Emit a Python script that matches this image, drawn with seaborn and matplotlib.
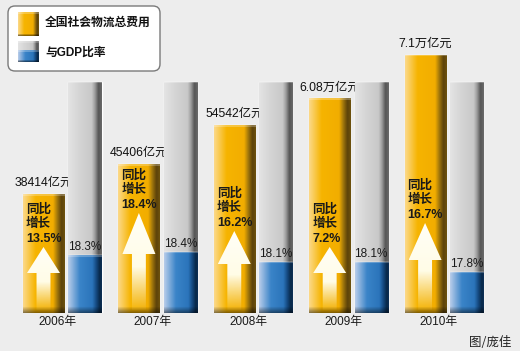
import numpy as np
import matplotlib
matplotlib.use("Agg")
import matplotlib.pyplot as plt
import matplotlib.colors as mcolors
from matplotlib.patches import FancyBboxPatch, Polygon
import seaborn as sns

# datos
years = ["2006年", "2007年", "2008年", "2009年", "2010年"]
cost = [38414, 45406, 54542, 60800, 71000]          # 亿元
cost_labels = ["38414亿元", "45406亿元", "54542亿元", "6.08万亿元", "7.1万亿元"]
growth = ["13.5%", "18.4%", "16.2%", "7.2%", "16.7%"]
ratio = [18.3, 18.4, 18.1, 18.1, 17.8]              # % del PIB
ratio_track = [23.55, 23.55, 23.55, 23.55, 23.55]   # barra gris de fondo

# flechas (px sobre la base): punta y cuello
arrow_tip = [66, 100, 82, 66, 90]
arrow_neck = [40, 59, 49, 40, 53]

sns.set_style("white")
plt.rcParams["font.family"] = ["Liberation Sans", "Noto Sans CJK SC"]

BG = "#ededed"
fig = plt.figure(figsize=(5.2, 3.51), dpi=100, facecolor=BG)
ax = fig.add_axes([0, 38 / 351, 1, 313 / 351])
ax.set_facecolor(BG)
ax2 = ax.twinx()

pos = np.arange(len(years))
sns.barplot(x=pos, y=cost, native_scale=True, width=0.43, color="#f5b300",
            saturation=1, errorbar=None, ax=ax)
sns.barplot(x=pos + 0.435, y=ratio_track, native_scale=True, width=0.346,
            color="#cfcfcf", saturation=1, errorbar=None, ax=ax2)
sns.barplot(x=pos + 0.435, y=ratio, native_scale=True, width=0.346,
            color="#2e7bc4", saturation=1, errorbar=None, ax=ax2)

XL = (-0.456, 4.995)
Y1 = (10650, 83800)
Y2 = (16.55, 26.03)
ax.axis("off")
ax2.axis("off")
PX = 313.0


def gradient(stops, nrow, dark_rows=0):
    xs = np.linspace(0, 1, 120)
    p = [s[0] for s in stops]
    rgb = np.array([mcolors.to_rgb(s[1]) for s in stops])
    row = np.stack([np.interp(xs, p, rgb[:, k]) for k in range(3)], -1)
    img = np.repeat(row[None], max(nrow, 2), 0)
    if dark_rows:
        n = min(dark_rows, img.shape[0])
        f = np.linspace(1.0, 0.55, n)
        img[-n:] *= f[:, None, None]
    img[:2] = img[:2] * 0.75 + 0.25
    return np.clip(img, 0, 1)


orange_stops = [(0, "#fcd98a"), (0.3, "#f6b400"), (0.72, "#f2ad00"),
                (0.82, "#a0760c"), (0.92, "#5c420a"), (1, "#6e520e")]
blue_stops = [(0, "#b9cdea"), (0.35, "#3a84c8"), (0.72, "#2b74ba"),
              (0.84, "#14487e"), (0.94, "#082848"), (1, "#0e3056")]
gray_stops = [(0, "#e4e4e4"), (0.3, "#d6d6d6"), (0.7, "#c8c8c8"),
              (0.8, "#9a9a9a"), (0.9, "#555555"), (1, "#6a6a6a")]


def shade(a, container, stops, ylim, z, dark=7):
    for patch in container:
        x0 = patch.get_x()
        x1 = x0 + patch.get_width()
        y0 = max(patch.get_y(), ylim[0])
        y1 = patch.get_y() + patch.get_height()
        nrow = int((y1 - y0) / (ylim[1] - ylim[0]) * PX)
        patch.set_zorder(z)
        im = a.imshow(gradient(stops, nrow, dark), extent=(x0, x1, y0, y1),
                      aspect="auto", interpolation="bilinear", zorder=z + 0.1)
        im.set_clip_path(patch)


shade(ax, ax.containers[0], orange_stops, Y1, 2)
shade(ax2, ax2.containers[0], gray_stops, Y2, 2, dark=0)
shade(ax2, ax2.containers[1], blue_stops, Y2, 3)
ax.set_xlim(*XL)
ax2.set_xlim(*XL)
ax.set_ylim(*Y1)
ax2.set_ylim(*Y2)

unit = (Y1[1] - Y1[0]) / PX  # datos por px
for i, patch in enumerate(ax.containers[0]):
    cx = patch.get_x() + patch.get_width() / 2
    left = patch.get_x()
    # flecha
    tip = Y1[0] + arrow_tip[i] * unit
    neck = Y1[0] + arrow_neck[i] * unit
    bot = Y1[0] + 3 * unit
    hw, sw = 0.173, 0.073
    pts = [(cx, tip), (cx + hw, neck), (cx + sw, neck), (cx + sw, bot),
           (cx - sw, bot), (cx - sw, neck), (cx - hw, neck)]
    arr = Polygon(pts, closed=True, facecolor="none", edgecolor="none")
    ax.add_patch(arr)
    n = 100
    alpha = np.ones(n)
    k0 = int(n * 0.55)
    alpha[k0:] = np.linspace(1, 0.05, n - k0)
    img = np.ones((n, 2, 4))
    img[:, :, 1] = np.linspace(1, 0.98, n)[:, None]
    img[:, :, 2] = np.linspace(0.97, 0.85, n)[:, None]
    img[:, :, 3] = alpha[:, None]
    im = ax.imshow(img, extent=(cx - hw, cx + hw, bot, tip), aspect="auto",
                   interpolation="bilinear", zorder=4)
    im.set_clip_path(arr)
    # textos
    ax.annotate("同比\n增长\n" + growth[i], xy=(left, tip), xytext=(3, 2),
                textcoords="offset pixels", ha="left", va="bottom",
                fontsize=9, fontweight="bold", linespacing=1.3,
                color="#1a1a1a", zorder=5)
    ax.annotate(cost_labels[i], xy=(cx, cost[i]), xytext=(0, 5),
                textcoords="offset pixels", ha="center", va="bottom",
                fontsize=8.8, color="#111111", zorder=5)
    ax.annotate(years[i], xy=(i + 0.145, Y1[0]), xytext=(0, -9),
                textcoords="offset pixels", ha="center", va="center",
                fontsize=8.5, color="#1a1a1a")

ax.set_xlim(*XL)
ax.set_ylim(*Y1)

for i, patch in enumerate(ax2.containers[1]):
    cx = patch.get_x() + patch.get_width() / 2
    ax2.annotate(f"{ratio[i]:.1f}%", xy=(cx, ratio[i]), xytext=(0, 2),
                 textcoords="offset pixels", ha="center", va="bottom",
                 fontsize=8.5, color="#1a1a1a", zorder=5)

# leyenda y firma en px
ov = fig.add_axes([0, 0, 1, 1], zorder=10)
ov.axis("off")
ov.patch.set_alpha(0)
ov.add_patch(FancyBboxPatch((8, 6), 152, 65, boxstyle="round,pad=0,rounding_size=7",
                            facecolor="white", edgecolor="#7a7a7a", lw=1, zorder=1))
ov.imshow(gradient(orange_stops, 24, 3), extent=(18, 39, 36, 12),
          aspect="auto", interpolation="bilinear", zorder=2)
ov.imshow(gradient(gray_stops, 10), extent=(18, 39, 50, 41),
          aspect="auto", interpolation="bilinear", zorder=2)
ov.imshow(gradient(blue_stops, 12, 3), extent=(18, 39, 62, 50),
          aspect="auto", interpolation="bilinear", zorder=2)
ov.set_xlim(0, 520)
ov.set_ylim(351, 0)
ov.text(45, 23, "全国社会物流总费用", fontsize=8.5, fontweight="bold",
        va="center", ha="left", color="#111111", zorder=3)
ov.text(45, 53, "与GDP比率", fontsize=8.5, fontweight="bold",
        va="center", ha="left", color="#111111", zorder=3)
ov.text(511, 342, "图/庞佳", fontsize=9, va="center", ha="right",
        color="#222222", family=["Noto Sans CJK SC"])

fig.savefig("out.png", dpi=100, facecolor=BG)
